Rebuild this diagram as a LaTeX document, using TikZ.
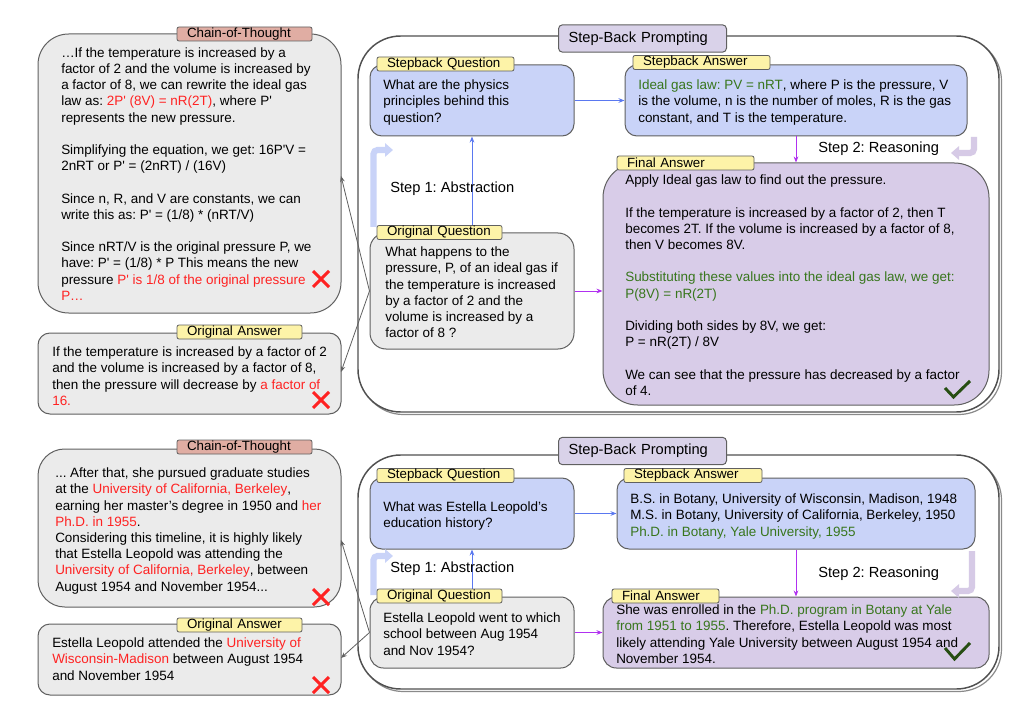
\documentclass[tikz,border=0pt]{standalone}
\usepackage{fontspec}
\setmainfont{Liberation Sans}
\usetikzlibrary{fit,arrows.meta,calc}
\definecolor{bordc}{HTML}{606060}
\definecolor{outerc}{HTML}{505050}
\definecolor{shadc}{HTML}{8A8A8A}
\definecolor{grayf}{HTML}{EBEBEB}
\definecolor{bluef}{HTML}{C9D3F8}
\definecolor{purpf}{HTML}{D8CCE8}
\definecolor{yellowf}{HTML}{FDF3A8}
\definecolor{cotf}{HTML}{E0ADA3}
\definecolor{sbpf}{HTML}{D9D2E9}
\definecolor{redt}{HTML}{FF2222}
\definecolor{greent}{HTML}{38761D}
\definecolor{checkc}{HTML}{274E13}
\definecolor{bluea}{HTML}{5A78F0}
\definecolor{purpa}{HTML}{B030F0}
\definecolor{connc}{HTML}{606060}
\definecolor{fatbc}{HTML}{C9D3F8}
\definecolor{fatpc}{HTML}{D6CAE6}
\newcommand{\pr}{\textquotesingle}
\newcommand{\rd}[1]{\textcolor{redt}{#1}}
\newcommand{\gn}[1]{\textcolor{greent}{#1}}
\newcommand{\fs}{\rule{0pt}{9pt}}
\frenchspacing
\begin{document}
\begin{tikzpicture}[x=0.75pt,y=-0.75pt,
  box/.style={draw=bordc, line width=0.75pt, inner sep=0pt},
  graybox/.style={box, fill=grayf},
  bluebox/.style={box, fill=bluef},
  purplebox/.style={box, fill=purpf},
  outerbox/.style={draw=outerc, fill=white, line width=1.1pt, inner sep=0pt, rounded corners=32pt},
  outershadow/.style={draw=shadc, line width=0.9pt, inner sep=0pt, rounded corners=32pt},
  lab/.style={draw=bordc, line width=0.6pt, inner ysep=0pt, inner xsep=7.5pt, minimum height=10.5pt, align=left, font=\fontsize{10}{11}\selectfont, rounded corners=1.5pt},
  sbplab/.style={draw=bordc, line width=0.75pt, fill=sbpf, inner ysep=0pt, inner xsep=7.5pt, minimum height=20.5pt, text width=111pt, align=left, font=\fontsize{11}{13}\selectfont, rounded corners=3pt},
  txt/.style={anchor=north west, inner sep=0pt, align=left, font=\fontsize{10.1}{12.15}\selectfont},
  steptxt/.style={anchor=west, inner sep=0pt, font=\fontsize{11}{13}\selectfont},
  barrow/.style={draw=bluea, line width=0.75pt, -{Stealth[length=4.5pt,width=3.5pt]}},
  parrow/.style={draw=purpa, line width=0.75pt, -{Stealth[length=4.5pt,width=3.5pt]}},
  conn/.style={draw=connc, line width=0.6pt, -{Stealth[length=4.5pt,width=3.5pt]}},
  fatb/.style={draw=fatbc, line width=4.6pt, rounded corners=3pt, -{Triangle[length=6pt,width=10pt]}},
  fatp/.style={draw=fatpc, line width=4.6pt, rounded corners=3pt, -{Triangle[length=6pt,width=10pt]}},
  xmark/.style={draw=redt, line width=2.2pt},
  checkmk/.style={draw=checkc, line width=2.2pt}
]
\useasboundingbox (0,0) rectangle (1024,709);

% ================= TOP =================
\node[outershadow, fit={(360.5,38.5) (1001.5,414.5)}] (sh1) {};
\node[outerbox, fit={(358,36) (999,412)}] (out1) {};
\node[graybox, rounded corners=23pt, fit={(38,34) (341,313)}] (cot1) {};
\node[graybox, rounded corners=9pt, fit={(38,333) (341,414)}] (oa1) {};
\node[bluebox, rounded corners=9pt, fit={(370,65) (574,136)}] (sq1) {};
\node[bluebox, rounded corners=9pt, fit={(625,65) (967,136)}] (sa1) {};
\node[purplebox, rounded corners=26pt, fit={(603,163) (989,405)}] (fa1) {};
\node[graybox, rounded corners=12pt, fit={(370,233) (574,349)}] (oq1) {};

\draw[fatb] (373.5,227) -- (373.5,150) -- (393,150);
\draw[fatp] (974,137) -- (974,153) -- (951,153);
\draw[barrow] (oq1.north) -- (sq1.south);

\node[sbplab] (sbp1) at (642.5,38.5) {Step-Back Prompting};
\node[lab, fill=cotf, text width=86.25pt] (cotl1) at (244.5,34) {Chain-of-Thought};
\node[lab, fill=yellowf, text width=78.75pt] (oal1) at (239.5,332) {Original Answer};
\node[lab, fill=yellowf, text width=87.75pt] (sql1) at (445.5,64) {Stepback Question};
\node[lab, fill=yellowf, text width=87.75pt] (sal1) at (701.5,62.5) {Stepback Answer};
\node[lab, fill=yellowf, text width=87.75pt] (fal1) at (685.5,163) {Final Answer};
\node[lab, fill=yellowf, text width=78.75pt] (oql1) at (439.5,232.5) {Original Question};

\node[txt] (cott1) at (61,45) {\fs…If the temperature is increased by a\\
factor of 2 and the volume is increased by\\
a factor of 8, we can rewrite the ideal gas\\
law as: \rd{2P\pr{} (8V) = nR(2T)}, where P\pr\\
represents the new pressure.\\[12.15pt]
Simplifying the equation, we get: 16P\pr V =\\
2nRT or P\pr{} = (2nRT) / (16V)\\[12.15pt]
Since n, R, and V are constants, we can\\
write this as: P\pr{} = (1/8) * (nRT/V)\\[12.15pt]
Since nRT/V is the original pressure P, we\\
have: P\pr{} = (1/8) * P This means the new\\
pressure \rd{P\pr{} is 1/8 of the original pressure}\\
\rd{P…}};

\node[txt] (oat1) at (52,344.5) {\fs If the temperature is increased by a factor of 2\\
and the volume is increased by a factor of 8,\\
then the pressure will decrease by \rd{a factor of}\\
\rd{16.}};

\node[txt] (sqt1) at (383,77.5) {\fs What are the physics\\principles behind this\\question?};
\node[txt] (sat1) at (638,77.5) {\fs\gn{Ideal gas law: PV = nRT}, where P is the pressure, V\\
is the volume, n is the number of moles, R is the gas\\
constant, and T is the temperature.};
\node[txt] (fat1) at (625,172.5) {\fs Apply Ideal gas law to find out the pressure.\\[12.15pt]
If the temperature is increased by a factor of 2, then T\\
becomes 2T. If the volume is increased by a factor of 8,\\
then V becomes 8V.\\[12.15pt]
\gn{Substituting these values into the ideal gas law, we get:}\\
\gn{P(8V) = nR(2T)}\\[12.15pt]
Dividing both sides by 8V, we get:\\
P = nR(2T) / 8V\\[12.15pt]
We can see that the pressure has decreased by a factor\\
of 4.};
\node[txt] (oqt1) at (385,244.5) {\fs What happens to the\\
pressure, P, of an ideal gas if\\
the temperature is increased\\
by a factor of 2 and the\\
volume is increased by a\\
factor of 8 ?};

\node[steptxt] (st11) at (390,189) {Step 1: Abstraction};
\node[steptxt] (st21) at (818,149) {Step 2: Reasoning};

\draw[barrow] (sq1.east) -- (sa1.west);
\draw[parrow] (sa1.south) -- (fa1.north);
\draw[parrow] (oq1.east) -- (oq1.east -| fa1.west);
\coordinate (cin1) at (341,176);
\coordinate (ain1) at (341,372);
\draw[conn] (oq1.west) -- (cin1);
\draw[conn] (oq1.west) -- (ain1);

\draw[xmark] (313,271) -- (329,287) (313,287) -- (329,271);
\draw[xmark] (313,392) -- (329,408) (313,408) -- (329,392);
\draw[checkmk] (945,388) -- (953.5,397) -- (970,381);

% ================= BOTTOM =================
\node[outershadow, fit={(360.5,457.5) (1001.5,691.5)}] (sh2) {};
\node[outerbox, fit={(358,455) (999,689)}] (out2) {};
\node[graybox, rounded corners=20pt, fit={(38,449) (341,607)}] (cot2) {};
\node[graybox, rounded corners=9pt, fit={(38,624) (341,695)}] (oa2) {};
\node[bluebox, rounded corners=9pt, fit={(370,478) (574,549)}] (sq2) {};
\node[bluebox, rounded corners=9pt, fit={(617,478) (975,549)}] (sa2) {};
\node[purplebox, rounded corners=10pt, fit={(603,597) (989,668)}] (fa2) {};
\node[graybox, rounded corners=10pt, fit={(370,597) (574,668)}] (oq2) {};

\draw[fatb] (373.5,595) -- (373.5,556) -- (393,556);
\draw[fatp] (972,551) -- (972,591) -- (951,591);
\draw[barrow] (oq2.north) -- (sq2.south);

\node[sbplab] (sbp2) at (642.5,451) {Step-Back Prompting};
\node[lab, fill=cotf, text width=86.25pt] (cotl2) at (244.5,447) {Chain-of-Thought};
\node[lab, fill=yellowf, text width=78.75pt] (oal2) at (239.5,625) {Original Answer};
\node[lab, fill=yellowf, text width=87.75pt] (sql2) at (445.5,475.5) {Stepback Question};
\node[lab, fill=yellowf, text width=88.5pt] (sal2) at (693,475.5) {Stepback Answer};
\node[lab, fill=yellowf, text width=65.25pt] (fal2) at (665.5,596) {Final Answer};
\node[lab, fill=yellowf, text width=78.75pt] (oql2) at (439.5,596) {Original Question};

\node[txt] (cott2) at (55,465.5) {\fs ... After that, she pursued graduate studies\\
at the \rd{University of California, Berkeley},\\
earning her master's degree in 1950 and \rd{her}\\
\rd{Ph.D. in 1955}.\\
Considering this timeline, it is highly likely\\
that Estella Leopold was attending the\\
\rd{University of California, Berkeley}, between\\
August 1954 and November 1954...};
\node[txt] (oat2) at (52,635.5) {\fs Estella Leopold attended the \rd{University of}\\
\rd{Wisconsin-Madison} between August 1954\\
and November 1954};
\node[txt] (sqt2) at (383,499.5) {\fs What was Estella Leopold’s\\education history?};
\node[txt] (sat2) at (630,491.5) {\fs B.S. in Botany, University of Wisconsin, Madison, 1948\\
M.S. in Botany, University of California, Berkeley, 1950\\
\gn{Ph.D. in Botany, Yale University, 1955}};
\node[txt] (oqt2) at (383,610.5) {\fs Estella Leopold went to which\\
school between Aug 1954\\
and Nov 1954?};
\node[txt] (fat2) at (616,602.5) {\fs She was enrolled in the \gn{Ph.D. program in Botany at Yale}\\
\gn{from 1951 to 1955}. Therefore, Estella Leopold was most\\
likely attending Yale University between August 1954 and\\
November 1954.};

\node[steptxt] (st12) at (390,569) {Step 1: Abstraction};
\node[steptxt] (st22) at (818,574) {Step 2: Reasoning};

\draw[barrow] (sq2.east) -- (sa2.west);
\draw[parrow] (sa2.south -| sa1.south) -- (fa2.north -| sa1.south);
\draw[parrow] (oq2.east) -- (oq2.east -| fa2.west);
\coordinate (cin2) at (341,540);
\coordinate (ain2) at (341,658);
\draw[conn] (oq2.west) -- (cin2);
\draw[conn] (oq2.west) -- (ain2);

\draw[xmark] (313,589) -- (329,605) (313,605) -- (329,589);
\draw[xmark] (313,677) -- (329,693) (313,693) -- (329,677);
\draw[checkmk] (945,648) -- (954.5,659) -- (970,643);
\end{tikzpicture}
\end{document}
